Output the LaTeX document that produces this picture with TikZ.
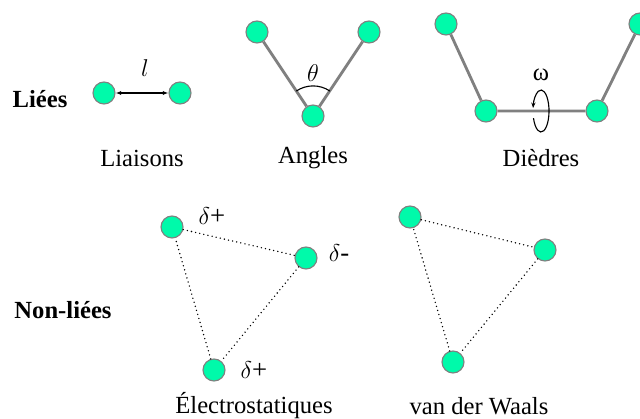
\documentclass[tikz,border=0pt]{standalone}
\usepackage{fontspec}
\setmainfont{Liberation Serif}
\usetikzlibrary{arrows.meta}
\definecolor{atome}{RGB}{0,250,170}
\definecolor{lien}{RGB}{128,128,128}
\tikzset{
  atom/.style={circle,fill=atome,draw=lien,line width=0.8pt,minimum size=0.55cm,inner sep=0pt},
  bond/.style={draw=lien,line width=2pt},
  nb/.style={line width=1.1pt,line cap=round,dash pattern=on 0pt off 3pt},
  lbl/.style={font=\fontsize{17.5}{20}\selectfont},
  sym/.style={font=\fontsize{19}{22}\selectfont},
  titre/.style={font=\fontsize{17.5}{20}\selectfont\bfseries}
}
\begin{document}
\begin{tikzpicture}[x=0.025cm,y=-0.025cm]
    \useasboundingbox (0,0) rectangle (640,419);
    % liees
    \node[titre] (liees) at (40,99) {Liées};
    \node[atom] (l1) at (104,93) {};
    \node[atom] (l2) at (180,93) {};
    \draw [{Latex[length=4pt]}-{Latex[length=4pt]},line width=0.9pt] (l1) -- (l2);
    \node[sym] (ll) at (145,68) {$l$};
    \node[lbl] (liaisons) at (142,158) {Liaisons};
    % angles
    \node[atom] (a1) at (257,32) {};
    \node[atom] (a2) at (313,116) {};
    \node[atom] (a3) at (369,32) {};
    \draw[bond] (a1) -- (a2) -- (a3);
    \draw[line width=0.8pt] (a2) ++(-0.556*30,-0.832*30) arc[start angle=236,end angle=304,radius=30];
    \node[sym] (theta) at (313,73) {$\theta$};
    \node[lbl] (angles) at (313,158) {Angles};
    % diedres
    \node[atom] (d1) at (446,24) {};
    \node[atom] (d2) at (486,111) {};
    \node[atom] (d3) at (597,111) {};
    \node[atom] (d4) at (640,24) {};
    \draw[bond] (d1) -- (d2) -- (d3) -- (d4);
    \draw[line width=0.8pt,-{Stealth[length=4pt]}] (541,111) ++(-7.5,7.2) arc[start angle=160,end angle=-172,x radius=8,y radius=21];
    \node[lbl] (omega) at (541,75) {ω};
    \node[lbl] (diedres) at (541,158) {Dièdres};
    % non liees
    \node[titre] (nonliees) at (63,310) {Non-liées};
    \node[atom] (e1) at (172,227) {};
    \node[atom] (e2) at (306,258) {};
    \node[atom] (e3) at (214,370) {};
    \draw[nb] (e1) -- (e2) -- (e3) -- (e1);
    \node[sym] (q1) at (212,216) {$\delta$+};
    \node[sym] (q2) at (339,253) {$\delta$-};
    \node[sym] (q3) at (254,370) {$\delta$+};
    \node[lbl] (elec) at (254,406) {Électrostatiques};
    \node[atom] (v1) at (410,217) {};
    \node[atom] (v2) at (545,250) {};
    \node[atom] (v3) at (453,362) {};
    \draw[nb] (v1) -- (v2) -- (v3) -- (v1);
    \node[lbl] (vdw) at (479,406) {van der Waals};
\end{tikzpicture}
\end{document}
